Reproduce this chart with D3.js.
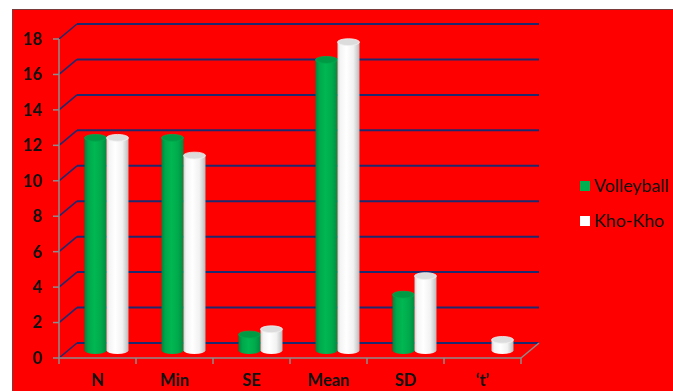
<!DOCTYPE html>
<html>
<head>
<meta charset="utf-8">
<script src="https://cdn.jsdelivr.net/npm/d3@7"></script>
<style>
  html, body { margin: 0; padding: 0; background: #fff; }
  svg { display: block; }
</style>
</head>
<body>
<svg id="chart" width="673" height="391"></svg>
<script>
// Categories, series and tick values
const categories = ["N", "Min", "SE", "Mean", "SD", "\u2018t\u2019"];
const seriesNames = ["Volleyball", "Kho-Kho"];
const volleyball = [12, 12, 0.9, 16.4, 3.15, 0];
const khoKho = [12, 11, 1.2, 17.4, 4.2, 0.6];
const yTicks = [0, 2, 4, 6, 8, 10, 12, 14, 16, 18];
const seriesColors = ["#00b050", "#ffffff"];

const svg = d3.select("#chart");
const W = 673, H = 391;

// 3D depth offset of the back wall
const depth = { dx: 18, dy: -15 };

const x = d3.scaleBand().domain(categories).range([59, 521]).padding(0);
const y = d3.scaleLinear().domain([0, 18]).range([358, 39]);
const xs = d3.scaleBand().domain(seriesNames).range([-22, 22]).padding(0);

// Chart area
svg.append("rect")
  .attr("x", 12.5).attr("y", 9.5)
  .attr("width", W).attr("height", H)
  .attr("fill", "#ff0000")
  .attr("stroke", "#7a3a3a").attr("stroke-width", 1);

const defs = svg.append("defs");
const gGreen = defs.append("linearGradient").attr("id", "cylGreen")
  .attr("x1", "0%").attr("x2", "100%").attr("y1", "0%").attr("y2", "0%");
[["0%", "#00843c"], ["18%", "#00a84c"], ["45%", "#00b852"], ["75%", "#00aa4c"], ["100%", "#008a3e"]]
  .forEach(([o, c]) => gGreen.append("stop").attr("offset", o).attr("stop-color", c));
const gWhite = defs.append("linearGradient").attr("id", "cylWhite")
  .attr("x1", "0%").attr("x2", "100%").attr("y1", "0%").attr("y2", "0%");
[["0%", "#cfcfcf"], ["12%", "#f4f4f4"], ["40%", "#ffffff"], ["72%", "#f2f2f2"], ["90%", "#d0d0d0"], ["100%", "#b8b8b8"]]
  .forEach(([o, c]) => gWhite.append("stop").attr("offset", o).attr("stop-color", c));
const fills = ["url(#cylGreen)", "url(#cylWhite)"];
const topFills = ["#009a44", "#dcdcdc"];
const topStrokes = ["#00a84c", "#f0f0f0"];

// Back-wall gridlines and side-wall diagonals
const grid = svg.append("g");
yTicks.forEach(v => {
  const yy = y(v);
  grid.append("line")
    .attr("x1", 59).attr("y1", yy)
    .attr("x2", 59 + depth.dx).attr("y2", yy + depth.dy)
    .attr("stroke", "#1f2a6e").attr("stroke-width", 1.6);
  grid.append("line")
    .attr("x1", 59 + depth.dx).attr("y1", yy + depth.dy)
    .attr("x2", 521 + depth.dx).attr("y2", yy + depth.dy)
    .attr("stroke", "#1f2a6e").attr("stroke-width", 2);
});

// Floor edges and category ticks
const floor = svg.append("g").attr("stroke", "#8c8c8c").attr("stroke-width", 1.5).attr("fill", "none");
floor.append("line").attr("x1", 59).attr("y1", y(0)).attr("x2", 521).attr("y2", y(0));
floor.append("line").attr("x1", 521).attr("y1", y(0))
  .attr("x2", 521 + depth.dx).attr("y2", y(0) + depth.dy);
const bounds = categories.map(c => x(c)).concat([x.range()[1]]);
bounds.forEach(b => {
  floor.append("line").attr("x1", b).attr("y1", y(0)).attr("x2", b).attr("y2", y(0) + 6);
});

// Y axis
const yAxis = svg.append("g");
yAxis.append("line").attr("x1", 59).attr("y1", y(18)).attr("x2", 59).attr("y2", y(0))
  .attr("stroke", "#8c8c8c").attr("stroke-width", 1.5);
yTicks.forEach(v => {
  yAxis.append("line").attr("x1", 53).attr("x2", 59).attr("y1", y(v)).attr("y2", y(v))
    .attr("stroke", "#8c8c8c").attr("stroke-width", 1.5);
  yAxis.append("text")
    .attr("x", 42).attr("y", y(v)).attr("dy", "0.36em")
    .attr("text-anchor", "end")
    .attr("font-family", "Lato, 'Open Sans', sans-serif")
    .attr("font-weight", "bold").attr("font-size", 16.5)
    .attr("fill", "#111")
    .text(v);
});

// Cylinders, drawn at mid-depth
const rx = 11, ry = 3.4;
const midDx = depth.dx / 2, midDy = depth.dy / 2;
const rows = categories.map((c, i) => ({ cat: c, vals: [volleyball[i], khoKho[i]] }));
const bars = svg.append("g");
rows.forEach(r => {
  r.vals.forEach((v, s) => {
    if (v <= 0) return;
    const cx = x(r.cat) + x.bandwidth() / 2 + midDx + xs(seriesNames[s]) + xs.bandwidth() / 2;
    const yb = y(0) + midDy;
    const yt = y(v) + midDy;
    const body = `M${cx - rx},${yt} L${cx - rx},${yb} A${rx},${ry} 0 0,0 ${cx + rx},${yb} L${cx + rx},${yt} Z`;
    bars.append("path").attr("d", body).attr("fill", fills[s]);
    bars.append("ellipse")
      .attr("cx", cx).attr("cy", yt).attr("rx", rx).attr("ry", ry)
      .attr("fill", topFills[s]).attr("stroke", topStrokes[s]).attr("stroke-width", 0.8);
  });
});

// Category labels
svg.append("g").selectAll("text").data(categories).join("text")
  .attr("x", d => x(d) + x.bandwidth() / 2)
  .attr("y", 386)
  .attr("text-anchor", "middle")
  .attr("font-family", "Lato, 'Open Sans', sans-serif")
  .attr("font-weight", "bold").attr("font-size", 16.5)
  .attr("fill", "#111")
  .text(d => d);

// Legend
const legend = svg.append("g");
seriesNames.forEach((n, i) => {
  const ly = 186 + i * 35;
  legend.append("rect")
    .attr("x", 580).attr("y", ly - 5).attr("width", 10).attr("height", 10)
    .attr("fill", seriesColors[i]);
  legend.append("text")
    .attr("x", 594).attr("y", ly).attr("dy", "0.36em")
    .attr("font-family", "Lato, 'Open Sans', sans-serif")
    .attr("font-size", 17.8)
    .attr("fill", "#111")
    .text(n);
});
</script>
</body>
</html>
